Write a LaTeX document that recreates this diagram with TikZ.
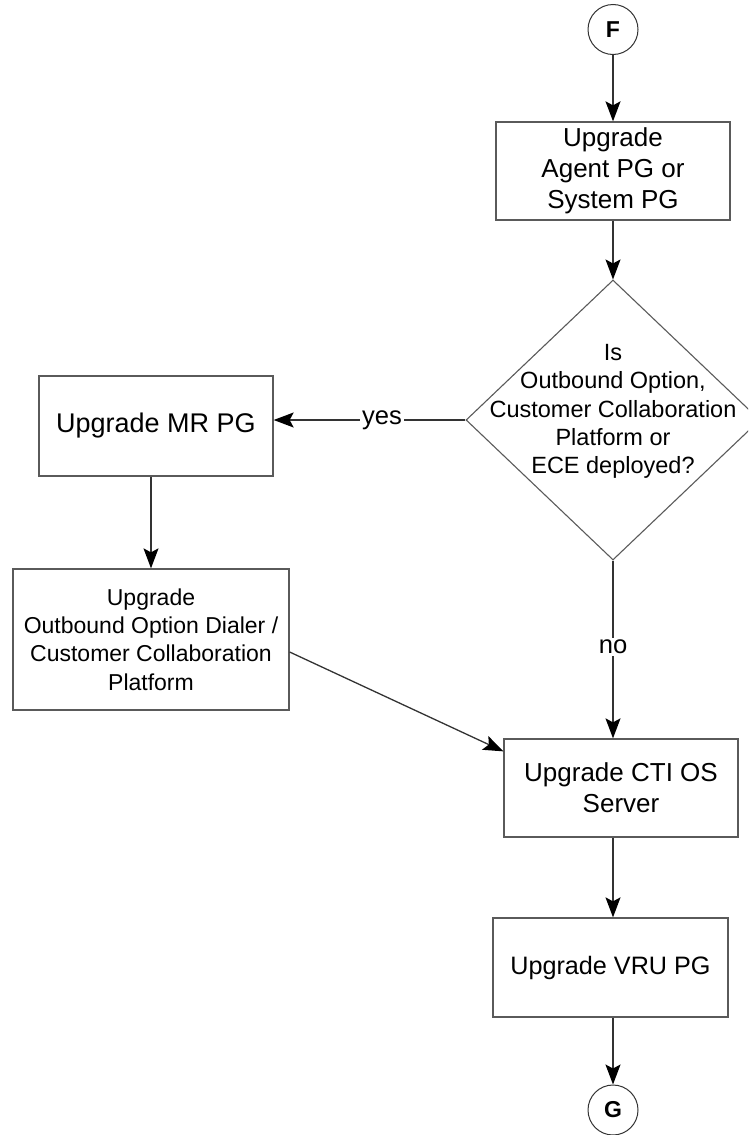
\documentclass[tikz,border=0pt]{standalone}
\usepackage{fontspec}
\setmainfont{Liberation Sans}
\usetikzlibrary{shapes.geometric,arrows.meta,calc}
\definecolor{boxgray}{HTML}{5A5A5A}
\definecolor{linegray}{HTML}{333333}
\tikzset{
  box/.style={draw=boxgray, line width=1.3pt, inner sep=0pt, align=center, text=black},
  conn/.style={circle, draw=black!80, line width=1pt, minimum size=50pt, inner sep=0pt, font=\fontsize{23}{26}\selectfont\bfseries},
  dia/.style={diamond, draw=boxgray, line width=1.1pt, inner sep=0pt, minimum width=294pt, minimum height=280pt},
  arr/.style={draw=linegray, line width=1.3pt, -{Stealth[length=20pt,width=15pt,inset=4pt,color=black]}},
  lbl/.style={fill=white, inner sep=2pt, font=\fontsize{25.6}{30}\selectfont}
}
\begin{document}
\begin{tikzpicture}[x=1pt,y=-1pt]
\useasboundingbox (0,0) rectangle (748,1135);
\clip (0,0) rectangle (748,1135);
\node[conn] (F) at (613,29.5) {F};
\node[box, minimum width=234pt, minimum height=98pt, font=\fontsize{26}{31}\selectfont] (b1) at (613,171) {Upgrade\\Agent PG or\\System PG};
\node[dia] (d) at (613,420) {};
\node[align=center, inner sep=0pt, font=\fontsize{23.5}{28.3}\selectfont] (dtext) at (613,411.5) {Is\\Outbound Option,\\Customer Collaboration\\Platform or\\ECE deployed?};
\node[box, minimum width=234pt, minimum height=100pt, font=\fontsize{27}{32}\selectfont] (mr) at (156,426) {Upgrade MR PG};
\node[box, minimum width=276pt, minimum height=141pt, font=\fontsize{23}{28.3}\selectfont] (dialer) at (151,639.5) {Upgrade\\Outbound Option Dialer /\\Customer Collaboration\\Platform};
\node[box, minimum width=234pt, minimum height=98pt, font=\fontsize{26}{31}\selectfont] (cti) at (621,788) {Upgrade CTI OS\\Server};
\node[box, minimum width=235pt, minimum height=99pt, font=\fontsize{25.2}{30}\selectfont] (vru) at (610.5,967.5) {Upgrade VRU PG};
\node[conn] (G) at (613,1110) {G};

\draw[arr] (F.south) -- (b1.north);
\draw[arr] (b1.south) -- (d.north);
\draw[arr] (d.west) -- node[lbl, pos=0.435] {yes} (d.west -| mr.east);
\draw[arr] (d.south) -- node[lbl, pos=0.486] {no} (d.south |- cti.north);
\draw[arr] (dialer.north |- mr.south) -- (dialer.north);
\draw[arr] ($(dialer.east)+(0,12.5)$) -- ($(cti.north west)+(0,13)$);
\draw[arr] (F |- cti.south) -- (F |- vru.north);
\draw[arr] (F |- vru.south) -- (G.north);
\end{tikzpicture}
\end{document}
